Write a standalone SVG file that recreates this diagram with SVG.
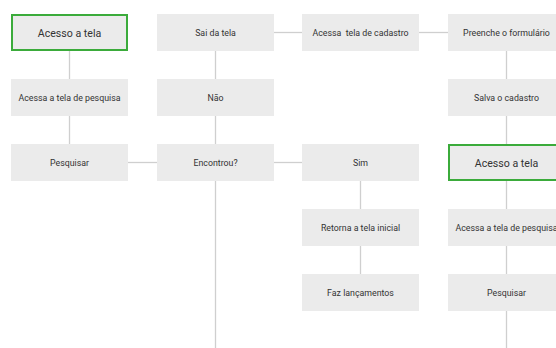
<svg xmlns="http://www.w3.org/2000/svg" width="556" height="348" viewBox="0 0 556 348">
<style>
.b{fill:#ebebeb}
.g{fill:#ebebeb;stroke:#3bab3b;stroke-width:2}
.t{font-family:Roboto,"Liberation Sans",sans-serif;font-size:8.8px;fill:#333;text-anchor:middle;dominant-baseline:central;white-space:pre}
.tl{font-size:10.6px}
.c line{stroke:#cfcfcf;stroke-width:1.3}
</style>
<rect width="556" height="348" fill="#fff"/>
<g class="c" id="connectors">
<line x1="69.5" y1="51" x2="69.5" y2="79"/>
<line x1="69.5" y1="116" x2="69.5" y2="144"/>
<line x1="128" y1="162.5" x2="157" y2="162.5"/>
<line x1="215.5" y1="51" x2="215.5" y2="79"/>
<line x1="215.5" y1="116" x2="215.5" y2="144"/>
<line x1="215.5" y1="181" x2="215.5" y2="348"/>
<line x1="274" y1="32.5" x2="302" y2="32.5"/>
<line x1="274" y1="162.5" x2="302" y2="162.5"/>
<line x1="419" y1="32.5" x2="448" y2="32.5"/>
<line x1="360.5" y1="181" x2="360.5" y2="209"/>
<line x1="360.5" y1="246" x2="360.5" y2="274"/>
<line x1="506.5" y1="51" x2="506.5" y2="79"/>
<line x1="506.5" y1="116" x2="506.5" y2="144"/>
<line x1="506.5" y1="181" x2="506.5" y2="209"/>
<line x1="506.5" y1="246" x2="506.5" y2="274"/>
<line x1="506.5" y1="311" x2="506.5" y2="348"/>
</g>
<g id="n1"><rect class="g" x="12" y="15" width="115" height="35"/><text class="t tl" x="69.5" y="33">Acesso a tela</text></g>
<g id="n2"><rect class="b" x="11" y="79" width="117" height="37"/><text class="t" x="69.5" y="98">Acessa a tela de pesquisa</text></g>
<g id="n3"><rect class="b" x="11" y="144" width="117" height="37"/><text class="t" x="69.5" y="163">Pesquisar</text></g>
<g id="n4"><rect class="b" x="157" y="14" width="117" height="37"/><text class="t" x="215.5" y="33">Sai da tela</text></g>
<g id="n5"><rect class="b" x="157" y="79" width="117" height="37"/><text class="t" x="215.5" y="98">Não</text></g>
<g id="n6"><rect class="b" x="157" y="144" width="117" height="37"/><text class="t" x="215.5" y="163">Encontrou?</text></g>
<g id="n7"><rect class="b" x="302" y="14" width="117" height="37"/><text class="t" x="360.5" y="33">Acessa  tela de cadastro</text></g>
<g id="n8"><rect class="b" x="302" y="144" width="117" height="37"/><text class="t" x="360.5" y="163">Sim</text></g>
<g id="n9"><rect class="b" x="302" y="209" width="117" height="37"/><text class="t" x="360.5" y="228">Retorna a tela inicial</text></g>
<g id="n10"><rect class="b" x="302" y="274" width="117" height="37"/><text class="t" x="360.5" y="293">Faz lançamentos</text></g>
<g id="n11"><rect class="b" x="448" y="14" width="117" height="37"/><text class="t" x="506.5" y="33">Preenche o formulário</text></g>
<g id="n12"><rect class="b" x="448" y="79" width="117" height="37"/><text class="t" x="506.5" y="98">Salva o cadastro</text></g>
<g id="n13"><rect class="g" x="449" y="145" width="115" height="35"/><text class="t tl" x="506.5" y="163">Acesso a tela</text></g>
<g id="n14"><rect class="b" x="448" y="209" width="117" height="37"/><text class="t" x="506.5" y="228">Acessa a tela de pesquisa</text></g>
<g id="n15"><rect class="b" x="448" y="274" width="117" height="37"/><text class="t" x="506.5" y="293">Pesquisar</text></g>
</svg>
